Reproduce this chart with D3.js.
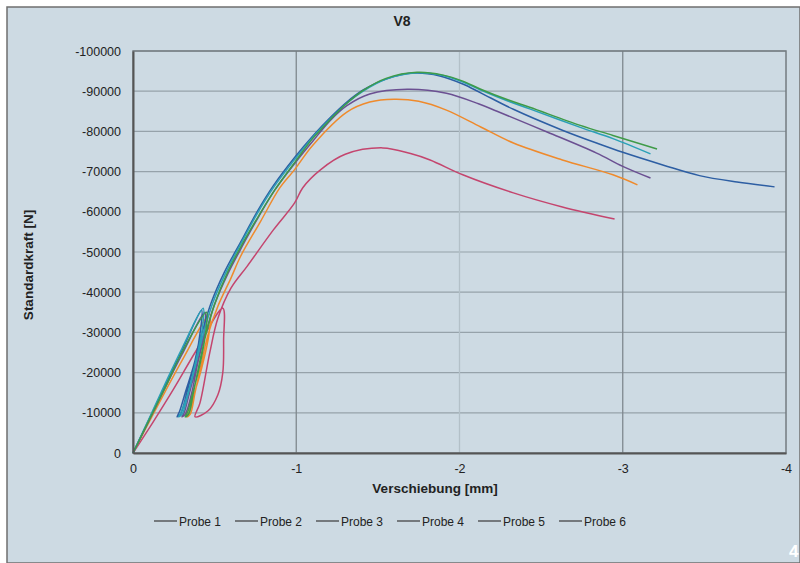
<!DOCTYPE html>
<meta charset="utf-8">
<style>
body { margin: 0; background: #fff; }
text { font-family: "Liberation Sans", Arial, sans-serif; fill: #222; }
.grid line { stroke: #96a2aa; stroke-width: 1.2px; }
.series path { fill: none; stroke-width: 1.5px; }
</style>
<svg width="800" height="563"></svg>
<script src="https://cdn.jsdelivr.net/npm/d3@7"></script>
<script>

var probeNames = ["Probe 1", "Probe 2", "Probe 3", "Probe 4", "Probe 5", "Probe 6"];
var probeColours = ["#2d5ea3", "#c4456e", "#3f9b48", "#6b5092", "#2aa0b6", "#ef8a2c"];

var xTicks = [0, -1, -2, -3, -4];
var yTicks = [0, -10000, -20000, -30000, -40000, -50000, -60000, -70000, -80000, -90000, -100000];

// [Verschiebung mm, Standardkraft N]
var probe1 = [[0,0],[-0.1,-8500],[-0.2,-17000],[-0.3,-25500],[-0.42,-35500],[-0.415,-31000],[-0.38,-23000],[-0.32,-15000],[-0.285,-10300],[-0.27,-9000],[-0.29,-9600],[-0.33,-15000],[-0.38,-23000],[-0.43,-31000],[-0.48,-37500],[-0.56,-45000],[-0.66,-52500],[-0.76,-60000],[-0.86,-66500],[-0.99,-73500],[-1.1,-78800],[-1.21,-83500],[-1.31,-87300],[-1.41,-90300],[-1.55,-93000],[-1.72,-94500],[-1.88,-93800],[-2.02,-91800],[-2.13,-89600],[-2.33,-85500],[-2.63,-80300],[-2.86,-76800],[-3.0,-74800],[-3.25,-71600],[-3.47,-69000],[-3.7,-67400],[-3.93,-66200]];
var probe2 = [[0,0],[-0.12,-7500],[-0.25,-16000],[-0.38,-25000],[-0.55,-36000],[-0.555,-28000],[-0.55,-20000],[-0.52,-14500],[-0.46,-10500],[-0.38,-9000],[-0.41,-12400],[-0.47,-24900],[-0.52,-33500],[-0.6,-41000],[-0.7,-46500],[-0.86,-55500],[-0.99,-62200],[-1.04,-66000],[-1.15,-70500],[-1.3,-74300],[-1.53,-75900],[-1.7,-74500],[-1.82,-72900],[-2.02,-69200],[-2.33,-64700],[-2.63,-61200],[-2.95,-58200]];
var probe3 = [[0,0],[-0.1,-8300],[-0.2,-16500],[-0.3,-25000],[-0.45,-35000],[-0.445,-30000],[-0.41,-22000],[-0.36,-14000],[-0.335,-10200],[-0.32,-9000],[-0.34,-9600],[-0.37,-15000],[-0.41,-23000],[-0.45,-30000],[-0.5,-37000],[-0.58,-45000],[-0.67,-52000],[-0.77,-59000],[-0.87,-65500],[-1.0,-72800],[-1.1,-78200],[-1.21,-83000],[-1.31,-87000],[-1.41,-90200],[-1.55,-93200],[-1.74,-94700],[-1.9,-94000],[-2.02,-92500],[-2.13,-90500],[-2.3,-87800],[-2.43,-86000],[-2.74,-81500],[-2.94,-79000],[-3.21,-75600]];
var probe4 = [[0,0],[-0.1,-8200],[-0.2,-16500],[-0.3,-24500],[-0.44,-35000],[-0.435,-30000],[-0.39,-22000],[-0.34,-14000],[-0.315,-10200],[-0.3,-9000],[-0.32,-9600],[-0.36,-15000],[-0.4,-23000],[-0.45,-30500],[-0.5,-37000],[-0.58,-44500],[-0.67,-51500],[-0.77,-58800],[-0.87,-65500],[-1.0,-72500],[-1.1,-77500],[-1.21,-82800],[-1.31,-86400],[-1.45,-89300],[-1.68,-90500],[-1.92,-89500],[-2.12,-86800],[-2.23,-85000],[-2.54,-79800],[-2.84,-74600],[-3.0,-71300],[-3.17,-68400]];
var probe5 = [[0,0],[-0.1,-8700],[-0.2,-17500],[-0.3,-26000],[-0.43,-36000],[-0.425,-31000],[-0.38,-22000],[-0.33,-14000],[-0.295,-10200],[-0.28,-9000],[-0.3,-9600],[-0.34,-15000],[-0.39,-23000],[-0.44,-31000],[-0.49,-37500],[-0.57,-45000],[-0.66,-52000],[-0.76,-59500],[-0.86,-66000],[-0.99,-73000],[-1.1,-78500],[-1.21,-83200],[-1.31,-87000],[-1.41,-90000],[-1.55,-93000],[-1.74,-94600],[-1.9,-93900],[-2.02,-92300],[-2.13,-90300],[-2.3,-87500],[-2.43,-85600],[-2.74,-81000],[-2.94,-78200],[-3.17,-74400]];
var probe6 = [[0,0],[-0.1,-7800],[-0.2,-15500],[-0.3,-23000],[-0.47,-34500],[-0.465,-29500],[-0.42,-21000],[-0.37,-14000],[-0.345,-10200],[-0.33,-9000],[-0.35,-9600],[-0.38,-15000],[-0.42,-22500],[-0.46,-29500],[-0.52,-36500],[-0.6,-43500],[-0.66,-49000],[-0.78,-57500],[-0.9,-66000],[-0.99,-70500],[-1.1,-76500],[-1.31,-84800],[-1.45,-87300],[-1.6,-88000],[-1.75,-87500],[-1.92,-85300],[-2.13,-81100],[-2.33,-77100],[-2.63,-72900],[-2.94,-69200],[-3.09,-66700]];

var probes = [probe1, probe2, probe3, probe4, probe5, probe6];
// drawing order: lowest curves first
var drawOrder = [1, 5, 3, 0, 4, 2];

var svg = d3.select("svg"),
    width = +svg.attr("width"),
    height = +svg.attr("height");

// outer frame
svg.append("rect")
   .attr("x", 7).attr("y", 7)
   .attr("width", width - 7).attr("height", height - 7)
   .attr("fill", "#cddae3")
   .attr("stroke", "#6f6f6f")
   .attr("stroke-width", 1.5);

var plotLeft = 133, plotRight = 786, plotTop = 51, plotBottom = 453;

var x = d3.scaleLinear().domain([0, -4]).range([plotLeft, plotRight]);
var y = d3.scaleLinear().domain([0, -100000]).range([plotBottom, plotTop]);

// horizontal grid
svg.append("g")
   .attr("class", "grid")
   .selectAll("line")
   .data(yTicks.slice(1))
   .enter().append("line")
     .attr("x1", plotLeft).attr("x2", plotRight)
     .attr("y1", function(d) { return y(d); })
     .attr("y2", function(d) { return y(d); });

// vertical grid (the -2 line is much fainter in the original)
svg.append("g")
   .selectAll("line")
   .data(xTicks.slice(1, 4))
   .enter().append("line")
     .attr("x1", function(d) { return x(d); })
     .attr("x2", function(d) { return x(d); })
     .attr("y1", plotTop).attr("y2", plotBottom)
     .style("stroke", function(d) { return d == -2 ? "#b3c0c8" : "#7f888e"; })
     .style("stroke-width", "1.3");

// plot border
svg.append("rect")
   .attr("x", plotLeft).attr("y", plotTop)
   .attr("width", plotRight - plotLeft).attr("height", plotBottom - plotTop)
   .attr("fill", "none")
   .attr("stroke", "#737b80")
   .attr("stroke-width", 1.5);

var line = d3.line()
    .x(function(d) { return x(d[0]); })
    .y(function(d) { return y(d[1]); })
    .curve(d3.curveCatmullRom.alpha(0.5));

svg.append("g")
   .attr("class", "series")
   .selectAll("path")
   .data(drawOrder)
   .enter().append("path")
     .attr("d", function(i) { return line(probes[i]); })
     .style("stroke", function(i) { return probeColours[i]; });

// axes
var xAxis = svg.append("g")
   .attr("transform", "translate(0," + plotBottom + ")")
   .call(d3.axisBottom(x).tickValues(xTicks).tickSize(0).tickPadding(11)
           .tickFormat(function(d) { return String(d); }));
xAxis.select(".domain").attr("stroke", "#555").attr("stroke-width", 2);

var yAxis = svg.append("g")
   .attr("transform", "translate(" + plotLeft + ",0)")
   .call(d3.axisLeft(y).tickValues(yTicks).tickSize(0).tickPadding(12)
           .tickFormat(function(d) { return String(d); }));
yAxis.select(".domain").attr("stroke", "#555").attr("stroke-width", 2);

svg.selectAll(".tick text")
   .style("font-family", "'Liberation Sans', Arial, sans-serif")
   .style("font-size", "12.5px")
   .attr("fill", "#222");

// titles
svg.append("text")
   .attr("x", 402).attr("y", 26)
   .attr("text-anchor", "middle")
   .style("font-size", "14px").style("font-weight", "bold")
   .text("V8");

svg.append("text")
   .attr("x", 435).attr("y", 493)
   .attr("text-anchor", "middle")
   .style("font-size", "13.5px").style("font-weight", "bold")
   .text("Verschiebung [mm]");

svg.append("text")
   .attr("transform", "translate(33,265) rotate(-90)")
   .attr("text-anchor", "middle")
   .style("font-size", "13.5px").style("font-weight", "bold")
   .text("Standardkraft [N]");

// legend
var legend = svg.append("g")
   .selectAll("g")
   .data(probeNames)
   .enter().append("g")
     .attr("transform", function(d, i) { return "translate(" + (154 + i * 81) + ",521)"; });

legend.append("line")
   .attr("x1", 0).attr("x2", 23)
   .style("stroke", "#3a3a3a")
   .style("stroke-width", "1.2");

legend.append("text")
   .attr("x", 25).attr("y", 4.5)
   .style("font-size", "12px")
   .text(function(d) { return d; });

// page number
svg.append("text")
   .attr("x", 789).attr("y", 557)
   .style("font-size", "17px").style("font-weight", "bold")
   .style("fill", "#ffffff")
   .text("4");

</script>
